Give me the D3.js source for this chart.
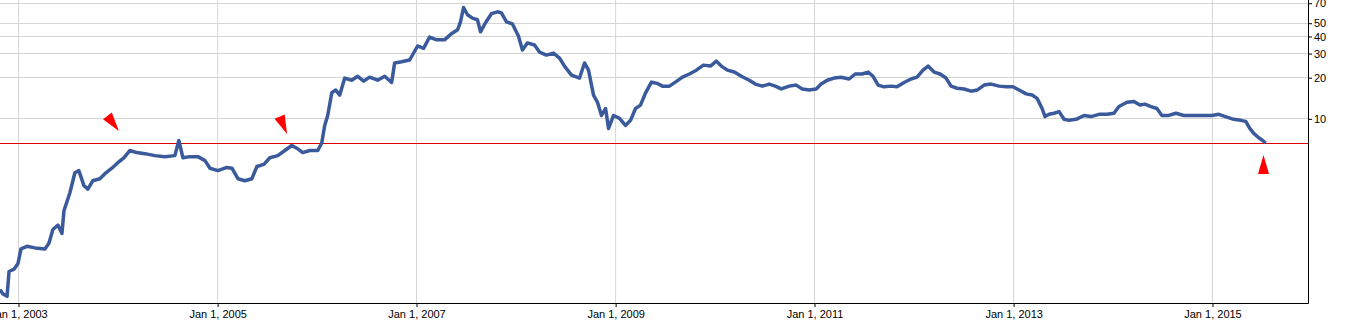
<!DOCTYPE html>
<html lang="en">
<head>
<meta charset="UTF-8">
<title>Price chart</title>
<script src="https://cdn.jsdelivr.net/npm/d3@7"></script>
<style>
  body { margin: 0; background: #fff; }
  svg { display: block; font-family: "Liberation Sans", Arial, sans-serif; }
  .grid line { stroke: #d4d4d4; stroke-width: 1; }
  .axis text { font-size: 11px; fill: #000; }
  .axis line { stroke: #000; }
</style>
</head>
<body>
<div id="chart"></div>
<script>
// time in decimal years, price at that time
const tradeYears = [
  2002.819, 2002.849, 2002.890, 2002.910, 2002.960, 2003.000, 2003.030, 2003.090, 2003.171, 2003.271,
  2003.311, 2003.351, 2003.402, 2003.442, 2003.462, 2003.522, 2003.572, 2003.612, 2003.663, 2003.703,
  2003.753, 2003.823, 2003.884, 2003.944, 2004.004, 2004.064, 2004.124, 2004.195, 2004.275, 2004.376,
  2004.476, 2004.576, 2004.616, 2004.657, 2004.727, 2004.807, 2004.878, 2004.928, 2005.008, 2005.098,
  2005.149, 2005.209, 2005.279, 2005.349, 2005.400, 2005.470, 2005.530, 2005.610, 2005.681, 2005.751,
  2005.801, 2005.861, 2005.932, 2006.012, 2006.052, 2006.082, 2006.112, 2006.153, 2006.193, 2006.233,
  2006.283, 2006.353, 2006.414, 2006.474, 2006.534, 2006.614, 2006.685, 2006.755, 2006.785, 2006.855,
  2006.936, 2007.016, 2007.076, 2007.137, 2007.207, 2007.287, 2007.357, 2007.418, 2007.448, 2007.478,
  2007.518, 2007.568, 2007.618, 2007.649, 2007.699, 2007.759, 2007.819, 2007.859, 2007.910, 2007.970,
  2008.030, 2008.070, 2008.120, 2008.191, 2008.241, 2008.311, 2008.382, 2008.442, 2008.492, 2008.562,
  2008.643, 2008.693, 2008.733, 2008.783, 2008.823, 2008.863, 2008.904, 2008.934, 2008.984, 2009.044,
  2009.104, 2009.155, 2009.205, 2009.255, 2009.305, 2009.365, 2009.426, 2009.476, 2009.546, 2009.606,
  2009.677, 2009.747, 2009.817, 2009.888, 2009.958, 2010.018, 2010.068, 2010.129, 2010.199, 2010.269,
  2010.349, 2010.410, 2010.480, 2010.550, 2010.610, 2010.671, 2010.751, 2010.821, 2010.882, 2010.952,
  2011.022, 2011.072, 2011.133, 2011.203, 2011.273, 2011.353, 2011.414, 2011.484, 2011.544, 2011.594,
  2011.645, 2011.705, 2011.775, 2011.835, 2011.906, 2011.976, 2012.036, 2012.096, 2012.147, 2012.207,
  2012.267, 2012.327, 2012.377, 2012.438, 2012.508, 2012.578, 2012.639, 2012.709, 2012.779, 2012.859,
  2012.930, 2013.000, 2013.060, 2013.131, 2013.191, 2013.241, 2013.291, 2013.321, 2013.361, 2013.412,
  2013.462, 2013.512, 2013.562, 2013.633, 2013.713, 2013.783, 2013.863, 2013.944, 2014.014, 2014.064,
  2014.145, 2014.215, 2014.275, 2014.325, 2014.386, 2014.446, 2014.496, 2014.566, 2014.637, 2014.717,
  2014.817, 2014.918, 2014.998, 2015.068, 2015.149, 2015.219, 2015.289, 2015.339, 2015.380, 2015.420,
  2015.470, 2015.510, 2015.540
];
const prices = [
  0.56, 0.52, 0.50, 0.76, 0.79, 0.87, 1.11, 1.16, 1.13, 1.11,
  1.22, 1.54, 1.66, 1.44, 2.11, 2.86, 4.00, 4.15, 3.22, 3.04,
  3.50, 3.62, 4.00, 4.32, 4.74, 5.15, 5.82, 5.62, 5.52, 5.34,
  5.25, 5.34, 6.89, 5.15, 5.25, 5.25, 4.91, 4.32, 4.15, 4.38,
  4.32, 3.62, 3.50, 3.62, 4.45, 4.61, 5.15, 5.34, 5.82, 6.33,
  6.05, 5.62, 5.82, 5.82, 6.60, 8.88, 10.5, 15.4, 16.1, 14.8,
  19.7, 19.0, 20.3, 18.7, 20.0, 19.0, 20.3, 18.3, 25.4, 25.9,
  26.7, 33.8, 32.5, 39.3, 37.5, 37.5, 41.6, 44.4, 51.0, 64.6,
  57.2, 54.0, 52.6, 42.9, 50.0, 58.2, 60.1, 59.0, 50.8, 49.0,
  40.0, 31.6, 35.6, 34.4, 30.5, 29.0, 30.0, 27.6, 24.1, 20.7,
  19.7, 25.4, 22.5, 14.8, 13.1, 10.5, 11.8, 8.44, 10.5, 10.0,
  8.88, 9.67, 11.8, 12.5, 15.3, 18.4, 18.0, 17.2, 17.2, 18.4,
  20.0, 21.1, 22.5, 24.5, 24.1, 26.2, 24.1, 22.5, 21.8, 20.3,
  19.0, 17.8, 17.2, 17.8, 17.2, 16.4, 17.2, 17.5, 16.4, 16.1,
  16.4, 17.8, 19.0, 19.7, 20.0, 19.4, 21.1, 21.1, 21.8, 20.3,
  17.5, 17.0, 17.2, 17.0, 18.3, 19.4, 20.0, 22.5, 24.1, 21.8,
  21.1, 19.7, 17.2, 16.6, 16.4, 15.8, 16.1, 17.5, 17.8, 17.2,
  17.0, 17.0, 16.1, 15.1, 14.8, 14.0, 11.8, 10.3, 10.7, 10.9,
  11.2, 9.84, 9.67, 9.84, 10.5, 10.3, 10.7, 10.7, 10.9, 12.2,
  13.1, 13.3, 12.5, 12.7, 12.2, 11.8, 10.5, 10.5, 10.9, 10.5,
  10.5, 10.5, 10.5, 10.7, 10.2, 9.84, 9.67, 9.5, 8.44, 7.76,
  7.22, 6.89, 6.60
];
const lastPrice = 6.60;

// red arrow markers: where the tip points, and which way it points (degrees, 0 = up)
const markerYears = [2004.014, 2005.703, 2015.518];
const markerPrices = [8.07, 7.67, 5.39];
const markerAngles = [143, 157, 0];

const xTickYears = [2003, 2005, 2007, 2009, 2011, 2013, 2015];
const yTickValues = [10, 20, 30, 40, 50, 70];

const toDate = y => {
  const yr = Math.floor(y);
  const start = new Date(yr, 0, 1), end = new Date(yr + 1, 0, 1);
  return new Date(+start + (y - yr) * (end - start));
};

const W = 1347, H = 322;
const plotW = 1308, plotH = 303;

const svg = d3.select("#chart").append("svg")
  .attr("width", W)
  .attr("height", H);

const x = d3.scaleTime()
  .domain([new Date(2003, 0, 1), new Date(2015, 0, 1)])
  .range([18, 1212]);

const y = d3.scaleLog()
  .domain([0.447, 73.3])
  .range([plotH, 0]);

const data = tradeYears.map((t, i) => ({ date: toDate(t), value: prices[i] }));

// grid
const grid = svg.append("g").attr("class", "grid");
grid.selectAll(".vg")
  .data(xTickYears)
  .join("line")
  .attr("x1", d => x(new Date(d, 0, 1)) + 0.5)
  .attr("x2", d => x(new Date(d, 0, 1)) + 0.5)
  .attr("y1", 0)
  .attr("y2", plotH);
grid.selectAll(".hg")
  .data(yTickValues)
  .join("line")
  .attr("class", "hg")
  .attr("x1", 0)
  .attr("x2", plotW)
  .attr("y1", d => Math.round(y(d)) + 0.5)
  .attr("y2", d => Math.round(y(d)) + 0.5);

// last price line
svg.append("line")
  .attr("x1", 0)
  .attr("x2", plotW)
  .attr("y1", Math.round(y(lastPrice)) + 0.5)
  .attr("y2", Math.round(y(lastPrice)) + 0.5)
  .attr("stroke", "#e00000")
  .attr("stroke-width", 1);

// price line
const line = d3.line()
  .x(d => x(d.date))
  .y(d => y(d.value));

svg.append("path")
  .datum(data)
  .attr("fill", "none")
  .attr("stroke", "#3a5a9b")
  .attr("stroke-width", 3.5)
  .attr("stroke-linejoin", "round")
  .attr("d", line);

// arrows
svg.selectAll(".arrow")
  .data(markerYears)
  .join("path")
  .attr("class", "arrow")
  .attr("d", "M0,0L5.5,19L-5.5,19Z")
  .attr("fill", "#ff0000")
  .attr("transform", (d, i) =>
    `translate(${x(toDate(d))},${y(markerPrices[i])}) rotate(${markerAngles[i]})`);

// axes
const xAxis = d3.axisBottom(x)
  .tickValues(xTickYears.map(d => new Date(d, 0, 1)))
  .tickFormat(d3.timeFormat("%b %-d, %Y"))
  .tickSize(4)
  .tickSizeOuter(0)
  .tickPadding(3);

svg.append("g")
  .attr("class", "axis")
  .attr("transform", `translate(0.5,${plotH})`)
  .call(xAxis)
  .call(g => g.select(".domain").remove());

const yAxis = d3.axisRight(y)
  .tickValues(yTickValues)
  .tickFormat(d3.format("d"))
  .tickSize(4)
  .tickSizeOuter(0)
  .tickPadding(2);

svg.append("g")
  .attr("class", "axis")
  .attr("transform", `translate(${plotW},0.5)`)
  .call(yAxis)
  .call(g => g.select(".domain").remove());

svg.append("line")
  .attr("x1", 0).attr("x2", plotW + 0.5)
  .attr("y1", plotH + 0.5).attr("y2", plotH + 0.5)
  .attr("stroke", "#000");
svg.append("line")
  .attr("x1", plotW + 0.5).attr("x2", plotW + 0.5)
  .attr("y1", 0).attr("y2", plotH + 0.5)
  .attr("stroke", "#000");
</script>
</body>
</html>
